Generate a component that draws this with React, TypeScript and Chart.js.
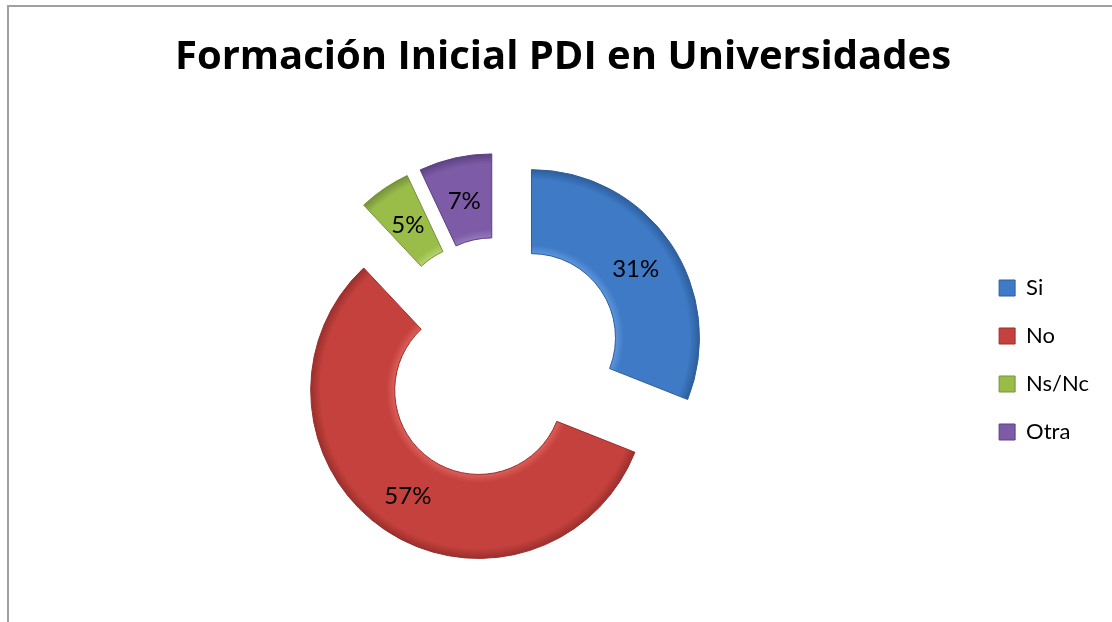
import React, { useEffect, useRef } from 'react';
import { Chart, registerables } from 'chart.js';

Chart.register(...registerables);

const categories = ['Si', 'No', 'Ns/Nc', 'Otra'];
const percentages = [31, 57, 5, 7];
const sliceColors = ['#3E7AC6', '#C5413D', '#9ABD4A', '#7D5BA6'];
const sliceLight = ['#5C95DC', '#DC5E5A', '#B4D56A', '#9777C0'];
const sliceDark = ['#2E5E9C', '#9A2F2C', '#76913A', '#5C4282'];
const titleText = 'Formación Inicial PDI en Universidades';

const EXPLODE = 38;
const FONT = 'Lato, "Open Sans", sans-serif';
const TITLE_FONT = '"Open Sans", Lato, sans-serif';

const explodePlugin = {
  id: 'explodeSlices',
  beforeDatasetDraw(chart: any, args: any) {
    const ctx = chart.ctx;
    args.meta.data.forEach((arc: any, i: number) => {
      const mid = (arc.startAngle + arc.endAngle) / 2;
      ctx.save();
      ctx.translate(Math.cos(mid) * EXPLODE, Math.sin(mid) * EXPLODE);
      const inner = arc.innerRadius;
      const outer = arc.outerRadius;
      const grad = ctx.createRadialGradient(arc.x, arc.y, inner, arc.x, arc.y, outer);
      grad.addColorStop(0, sliceLight[i]);
      grad.addColorStop(0.1, sliceColors[i]);
      grad.addColorStop(0.88, sliceColors[i]);
      grad.addColorStop(1, sliceDark[i]);
      const saved = arc.options;
      arc.options = Object.assign({}, saved, { backgroundColor: grad });
      arc.draw(ctx);
      arc.options = saved;
      ctx.restore();
    });
    return false;
  },
};

const labelPlugin = {
  id: 'sliceLabels',
  afterDatasetsDraw(chart: any) {
    const ctx = chart.ctx;
    const meta = chart.getDatasetMeta(0);
    ctx.save();
    ctx.font = `24px ${FONT}`;
    ctx.fillStyle = '#000000';
    ctx.textAlign = 'center';
    ctx.textBaseline = 'middle';
    meta.data.forEach((arc: any, i: number) => {
      const mid = (arc.startAngle + arc.endAngle) / 2;
      const r = (arc.innerRadius + arc.outerRadius) / 2 + EXPLODE;
      ctx.fillText(`${percentages[i]}%`, arc.x + Math.cos(mid) * r, arc.y + Math.sin(mid) * r + 2);
    });
    ctx.restore();
  },
};

const framePlugin = {
  id: 'frame',
  beforeDraw(chart: any) {
    const ctx = chart.ctx;
    ctx.save();
    ctx.fillStyle = '#ffffff';
    ctx.fillRect(0, 0, chart.width, chart.height);
    ctx.strokeStyle = '#a0a0a0';
    ctx.lineWidth = 2;
    ctx.beginPath();
    ctx.moveTo(8, chart.height + 2);
    ctx.lineTo(8, 6);
    ctx.lineTo(chart.width + 2, 6);
    ctx.stroke();
    ctx.restore();
  },
};

export default function App() {
  const canvasRef = useRef<HTMLCanvasElement | null>(null);

  useEffect(() => {
    if (!canvasRef.current) return;
    const chart = new Chart(canvasRef.current, {
      type: 'doughnut',
      data: {
        labels: categories,
        datasets: [
          {
            data: percentages,
            backgroundColor: sliceColors,
            borderColor: sliceDark,
            borderWidth: 1,
          },
        ],
      },
      options: {
        responsive: false,
        animation: false,
        events: [],
        radius: 168,
        cutout: '50%',
        layout: { padding: { left: 27, right: 13, top: 0, bottom: 0 } },
        plugins: {
          title: {
            display: true,
            text: titleText,
            color: '#000000',
            font: { family: TITLE_FONT, size: 40, weight: 'bold' },
            padding: { top: 34, bottom: 14 },
          },
          legend: {
            display: true,
            position: 'right',
            title: {
              display: true,
              text: '',
              font: { size: 10 },
              padding: { top: 0, bottom: 86 },
            },
            labels: {
              color: '#000000',
              font: { family: FONT, size: 22 },
              boxWidth: 16,
              boxHeight: 16,
              padding: 26,
            },
          },
          tooltip: { enabled: false },
        },
      },
      plugins: [framePlugin, explodePlugin, labelPlugin],
    });
    return () => chart.destroy();
  }, []);

  return (
    <div style={{ position: 'fixed', left: 0, top: 0, width: 1112, height: 622 }}>
      <canvas ref={canvasRef} width={1112} height={622} style={{ width: 1112, height: 622, display: 'block' }} />
    </div>
  );
}
